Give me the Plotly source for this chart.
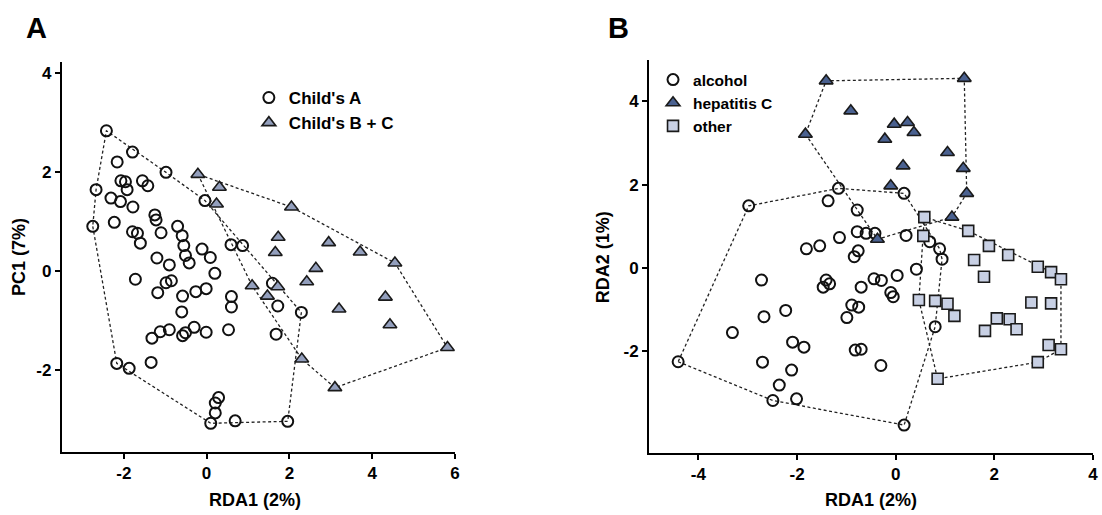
import plotly.graph_objects as go

# ---------------- Panel A data ----------------
a_childA_x = [-2.42, -1.79, -2.16, -0.98, -2.07, -1.96, -1.92, -1.55, -1.42, -2.67, -2.31, -2.08, -1.78,
              -0.04, -2.75, -2.23, -1.79, -1.67, -1.60, -1.25, -1.22, -1.10, -0.70, -0.59, -0.55, -0.51,
              -0.42, -1.20, -0.90, -0.11, 0.09, 0.59, 0.87, 0.20, -1.72, -0.98, -0.85, -1.18, -0.58, -0.26,
              -0.01, 0.60, 0.60, 1.59, 1.72, 2.29, -0.60, 1.68, -1.32, -1.12, -0.90, -0.58, -0.51, -0.30,
              -0.01, 0.53, -2.17, -1.87, -1.34, 0.29, 0.21, 0.21, 0.10, 0.69, 1.96]
a_childA_y = [2.83, 2.40, 2.20, 1.99, 1.82, 1.80, 1.64, 1.82, 1.72, 1.64, 1.47, 1.40, 1.29,
              1.42, 0.90, 0.98, 0.79, 0.76, 0.56, 1.13, 1.03, 0.77, 0.90, 0.71, 0.51, 0.31,
              0.16, 0.26, 0.12, 0.44, 0.27, 0.53, 0.51, -0.05, -0.17, -0.24, -0.20, -0.44, -0.51, -0.42,
              -0.36, -0.52, -0.73, -0.25, -0.71, -0.84, -0.83, -1.28, -1.36, -1.23, -1.19, -1.31, -1.25, -1.14,
              -1.24, -1.19, -1.87, -1.97, -1.85, -2.56, -2.67, -2.87, -3.08, -3.03, -3.04]
a_childBC_x = [-0.21, 0.31, 0.24, 2.05, 1.73, 1.66, 2.95, 3.71, 4.55, 2.64, 2.42, 1.10, 1.72, 1.47,
               4.32, 3.20, 4.43, 5.82, 2.30, 3.10]
a_childBC_y = [1.95, 1.69, 1.35, 1.29, 0.68, 0.37, 0.57, 0.38, 0.16, 0.05, -0.22, -0.30, -0.32, -0.51,
               -0.53, -0.77, -1.09, -1.55, -1.78, -2.36]

# ---------------- Panel B data ----------------
b_alcohol_x = [-2.98, -1.16, -1.37, -0.78, 0.17, -0.78, -0.60, -0.42, -1.14, 0.21, -1.81, -1.54, -2.72,
               -1.41, -1.47, -1.34, -2.23, -2.67, -0.99, -0.89, -3.31, -2.09, -1.86, -0.82, -0.70, -4.41,
               -2.70, -2.11, -2.36, -2.49, -2.01, 0.69, 0.89, 0.94, -0.76, -0.84, 0.42, 0.03, -0.44, -0.29,
               -0.70, -0.10, -0.05, -0.75, 0.80, -0.30, 0.17]
b_alcohol_y = [1.49, 1.91, 1.61, 1.39, 1.79, 0.87, 0.83, 0.83, 0.73, 0.78, 0.46, 0.53, -0.29,
               -0.29, -0.46, -0.38, -1.02, -1.17, -1.19, -0.89, -1.55, -1.78, -1.90, -1.97, -1.95, -2.25,
               -2.26, -2.45, -2.81, -3.18, -3.14, 0.63, 0.46, 0.21, 0.41, 0.27, -0.03, -0.18, -0.26, -0.30,
               -0.46, -0.59, -0.69, -0.94, -1.41, -2.34, -3.77]
b_hepc_x = [-1.41, 1.39, -0.91, -0.03, 0.24, 0.37, -0.22, -1.83, 1.05, 0.15, 1.37, -0.10, 1.44, 1.14, -0.37]
b_hepc_y = [4.49, 4.55, 3.77, 3.45, 3.49, 3.25, 3.09, 3.21, 2.77, 2.45, 2.39, 1.97, 1.79, 1.22, 0.69]
b_other_x = [0.58, 0.56, 1.47, 1.89, 2.28, 1.59, 2.88, 1.79, 0.47, 0.80, 1.05, 1.19, 2.75, 2.05, 2.31,
             2.45, 1.81, 2.88, 0.85, 3.15, 3.35, 3.15, 3.10, 3.35]
b_other_y = [1.22, 0.77, 0.89, 0.53, 0.31, 0.19, 0.03, -0.21, -0.77, -0.79, -0.86, -1.15, -0.83, -1.21, -1.23,
             -1.47, -1.51, -2.26, -2.66, -0.10, -0.27, -0.85, -1.85, -1.95]

a_xticks = [-2, 0, 2, 4, 6]
a_yticks = [-2, 0, 2, 4]
b_xticks = [-4, -2, 0, 2, 4]
b_yticks = [-2, 0, 2, 4]


def hull(xs, ys):
    pts = sorted(set(zip(xs, ys)))
    if len(pts) < 3:
        return pts

    def cross(o, a, b):
        return (a[0] - o[0]) * (b[1] - o[1]) - (a[1] - o[1]) * (b[0] - o[0])

    lower, upper = [], []
    for p in pts:
        while len(lower) >= 2 and cross(lower[-2], lower[-1], p) <= 0:
            lower.pop()
        lower.append(p)
    for p in reversed(pts):
        while len(upper) >= 2 and cross(upper[-2], upper[-1], p) <= 0:
            upper.pop()
        upper.append(p)
    h = lower[:-1] + upper[:-1]
    h.append(h[0])
    return h


def labels(vals):
    return [str(v) for v in vals]  # hyphen-minus like the reference


FONT = "Liberation Sans, Arial, sans-serif"
fig = go.Figure()


def add_hull(xs, ys, xa, ya):
    h = hull(xs, ys)
    fig.add_trace(go.Scatter(x=[p[0] for p in h], y=[p[1] for p in h], mode="lines",
                             line=dict(color="#222222", width=1.3, dash="3px,2.5px"),
                             xaxis=xa, yaxis=ya, showlegend=False, hoverinfo="skip"))


add_hull(a_childA_x, a_childA_y, "x", "y")
add_hull(a_childBC_x, a_childBC_y, "x", "y")
add_hull(b_alcohol_x, b_alcohol_y, "x2", "y2")
add_hull(b_hepc_x, b_hepc_y, "x2", "y2")
add_hull(b_other_x, b_other_y, "x2", "y2")

circ = dict(symbol="circle", size=11, color="rgba(255,255,255,0)", line=dict(color="#111111", width=2))
fig.add_trace(go.Scatter(x=a_childA_x, y=a_childA_y, mode="markers", name="Child's A",
                         marker=circ, xaxis="x", yaxis="y", legend="legend"))
fig.add_trace(go.Scatter(x=a_childBC_x, y=a_childBC_y, mode="markers", name="Child's B + C",
                         marker=dict(symbol="triangle-up", size=12, color="#939fbd",
                                     line=dict(color="#1a1a1a", width=1.6)),
                         xaxis="x", yaxis="y", legend="legend"))
fig.add_trace(go.Scatter(x=b_alcohol_x, y=b_alcohol_y, mode="markers", name="alcohol",
                         marker=circ, xaxis="x2", yaxis="y2", legend="legend2"))
fig.add_trace(go.Scatter(x=b_hepc_x, y=b_hepc_y, mode="markers", name="hepatitis C",
                         marker=dict(symbol="triangle-up", size=12, color="#4a6190",
                                     line=dict(color="#1a1a1a", width=1.6)),
                         xaxis="x2", yaxis="y2", legend="legend2"))
fig.add_trace(go.Scatter(x=b_other_x, y=b_other_y, mode="markers", name="other",
                         marker=dict(symbol="square", size=11, color="#c8d0e4",
                                     line=dict(color="#1a1a1a", width=1.6)),
                         xaxis="x2", yaxis="y2", legend="legend2"))

W, H = 1102, 515


def dx(px):
    return px / W


def dy(py):
    return 1 - py / H


axis_common = dict(showline=True, linecolor="black", linewidth=1.8, ticks="outside", ticklen=5,
                   tickwidth=1.5, tickcolor="black", showgrid=False, zeroline=False,
                   tickfont=dict(family=FONT, size=17, color="black", weight="bold"))

fig.update_layout(
    width=W, height=H, margin=dict(l=0, r=0, t=0, b=0),
    paper_bgcolor="white", plot_bgcolor="white",
    xaxis=dict(domain=[dx(62), dx(457)], range=[-3.5, 6], tickvals=a_xticks, ticktext=labels(a_xticks),
               anchor="y", **axis_common),
    yaxis=dict(domain=[dy(452), dy(62)], range=[-3.66, 4.22], tickvals=a_yticks, ticktext=labels(a_yticks),
               anchor="x", **axis_common),
    xaxis2=dict(domain=[dx(652), dx(1098)], range=[-5, 4], tickvals=b_xticks, ticktext=labels(b_xticks),
                anchor="y2", **axis_common),
    yaxis2=dict(domain=[dy(453), dy(60)], range=[-4.44, 4.99], tickvals=b_yticks, ticktext=labels(b_yticks),
                anchor="x2", **axis_common),
    legend=dict(x=dx(250), y=dy(80), xanchor="left", yanchor="top", bgcolor="rgba(0,0,0,0)",
                font=dict(family=FONT, size=17, color="black", weight="bold"), tracegroupgap=0,
                itemwidth=30),
    legend2=dict(x=dx(656), y=dy(63), xanchor="left", yanchor="top", bgcolor="rgba(0,0,0,0)",
                 font=dict(family=FONT, size=15.5, color="black", weight="bold"), tracegroupgap=0,
                 itemwidth=30),
    showlegend=True,
)

ann_font = dict(family=FONT, size=18, color="black", weight="bold")
letter_font = dict(family=FONT, size=29, color="black", weight="bold")
fig.add_annotation(text="A", x=dx(37), y=dy(28), xref="paper", yref="paper", showarrow=False,
                   xanchor="center", yanchor="middle", font=letter_font)
fig.add_annotation(text="B", x=dx(621), y=dy(28), xref="paper", yref="paper", showarrow=False,
                   xanchor="center", yanchor="middle", font=letter_font)
fig.add_annotation(text="RDA1 (2%)", x=dx(256), y=dy(500), xref="paper", yref="paper", showarrow=False,
                   xanchor="center", yanchor="middle", font=ann_font)
fig.add_annotation(text="RDA1 (2%)", x=dx(875), y=dy(500), xref="paper", yref="paper", showarrow=False,
                   xanchor="center", yanchor="middle", font=ann_font)
fig.add_annotation(text="PC1 (7%)", x=dx(19), y=dy(257), xref="paper", yref="paper", showarrow=False,
                   xanchor="center", yanchor="middle", textangle=-90, font=ann_font)
fig.add_annotation(text="RDA2 (1%)", x=dx(606), y=dy(257), xref="paper", yref="paper", showarrow=False,
                   xanchor="center", yanchor="middle", textangle=-90, font=ann_font)

fig.write_html("out.html")
